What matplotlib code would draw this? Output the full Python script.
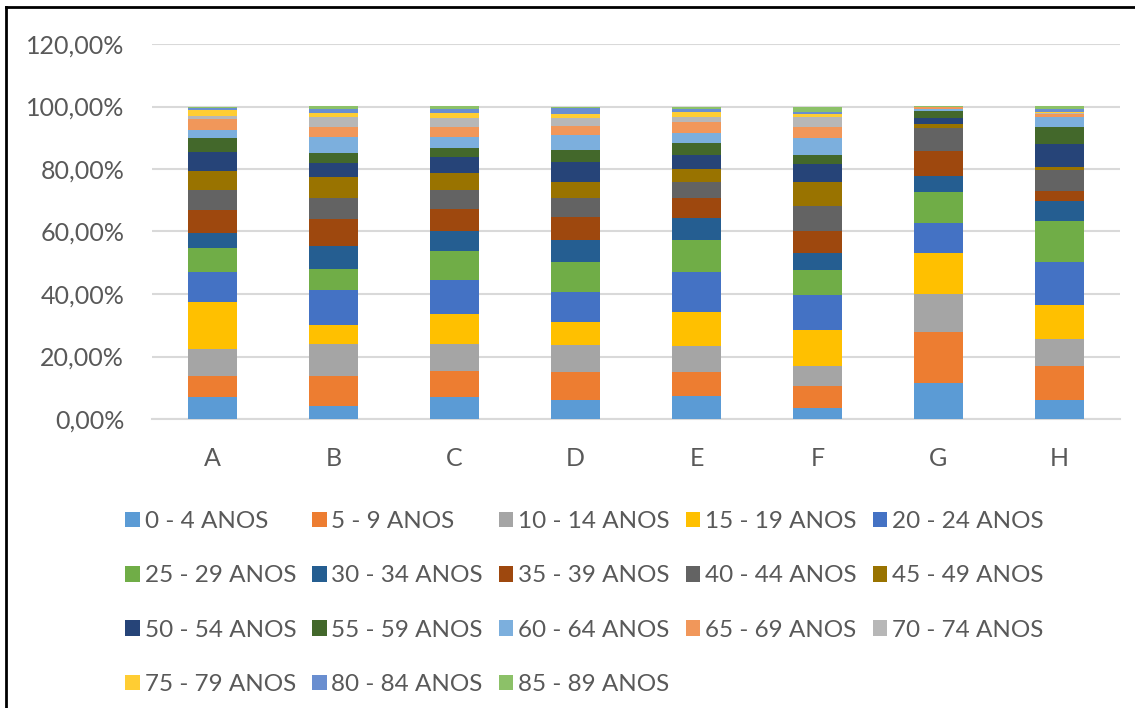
import matplotlib
matplotlib.use("Agg")
import matplotlib.pyplot as plt
from matplotlib.ticker import FuncFormatter
from matplotlib.patches import Patch
from matplotlib.lines import Line2D
import numpy as np

categories = ["A", "B", "C", "D", "E", "F", "G", "H"]
age_groups = ["0 - 4 ANOS", "5 - 9 ANOS", "10 - 14 ANOS", "15 - 19 ANOS", "20 - 24 ANOS",
              "25 - 29 ANOS", "30 - 34 ANOS", "35 - 39 ANOS", "40 - 44 ANOS", "45 - 49 ANOS",
              "50 - 54 ANOS", "55 - 59 ANOS", "60 - 64 ANOS", "65 - 69 ANOS", "70 - 74 ANOS",
              "75 - 79 ANOS", "80 - 84 ANOS", "85 - 89 ANOS"]

# percentages per age group, one value per category A..H
a_0_4   = [6.9, 4.3, 7.1, 6.2, 7.2, 3.6, 11.6, 6.2]
a_5_9   = [6.8, 9.5, 8.3, 9.0, 7.7, 6.9, 16.3, 10.9]
a_10_14 = [8.8, 10.1, 8.5, 8.5, 8.5, 6.5, 12.0, 8.4]
a_15_19 = [14.9, 6.2, 9.7, 7.5, 10.7, 11.4, 13.4, 11.0]
a_20_24 = [9.5, 11.0, 10.8, 9.6, 13.0, 11.2, 9.4, 13.9]
a_25_29 = [7.7, 6.7, 9.4, 9.4, 10.0, 8.0, 9.9, 13.1]
a_30_34 = [4.8, 7.6, 6.4, 7.2, 7.2, 5.6, 5.3, 6.3]
a_35_39 = [7.4, 8.5, 6.9, 7.4, 6.2, 7.1, 8.0, 3.2]
a_40_44 = [6.4, 6.7, 6.0, 6.0, 5.3, 8.0, 7.4, 6.6]
a_45_49 = [6.3, 6.9, 5.4, 5.1, 4.2, 7.5, 1.3, 1.1]
a_50_54 = [5.9, 4.3, 5.2, 6.3, 4.5, 5.8, 1.7, 7.5]
a_55_59 = [4.6, 3.3, 2.9, 3.8, 3.6, 2.8, 2.4, 5.2]
a_60_64 = [2.5, 5.2, 3.6, 5.0, 3.2, 5.6, 0.6, 3.4]
a_65_69 = [3.5, 3.1, 3.0, 2.7, 3.8, 3.5, 0.6, 0.9]
a_70_74 = [1.1, 3.0, 3.0, 2.7, 1.6, 3.2, 0.05, 0.3]
a_75_79 = [1.9, 1.5, 1.7, 1.2, 1.5, 0.9, 0.05, 0.2]
a_80_84 = [0.4, 1.1, 1.1, 1.8, 1.0, 0.7, 0.05, 1.0]
a_85_89 = [0.6, 0.9, 0.9, 0.6, 0.7, 1.7, 0.05, 0.9]

series = [a_0_4, a_5_9, a_10_14, a_15_19, a_20_24, a_25_29, a_30_34, a_35_39, a_40_44,
          a_45_49, a_50_54, a_55_59, a_60_64, a_65_69, a_70_74, a_75_79, a_80_84, a_85_89]

colors = ["#5B9BD5", "#ED7D31", "#A5A5A5", "#FFC000", "#4472C4", "#70AD47",
          "#255E91", "#9E480E", "#636363", "#997300", "#264478", "#43682B",
          "#7CAFDD", "#F1975A", "#B7B7B7", "#FFCD33", "#698ED0", "#8CC168"]

plt.rcParams['font.family'] = ['Lato', 'DejaVu Sans']
text_color = "#595959"

fig = plt.figure(figsize=(11.35, 7.08), dpi=100)
ax = fig.add_axes([152/1135, 1-419/708, (1120-152)/1135, (419-44)/708])

data = np.array(series) / 100.0
totals = data.sum(axis=0)
data = data / totals  # 100% stacked
x = np.arange(len(categories))
bottom = np.zeros(len(categories))
for i, vals in enumerate(data):
    ax.bar(x, vals, width=0.4, bottom=bottom, color=colors[i], label=age_groups[i], zorder=3)
    bottom += vals

ax.set_xlim(-0.5, len(categories) - 0.5)
ax.set_ylim(0, 1.2)
ax.set_yticks(np.arange(0, 1.21, 0.2))
ax.yaxis.set_major_formatter(FuncFormatter(lambda v, p: f"{v*100:.2f}%".replace(".", ",")))
ax.set_xticks(x)
ax.set_xticklabels(categories)
ax.grid(axis='y', color="#D9D9D9", linewidth=1.5, zorder=0)
for s in ["top", "right", "left"]:
    ax.spines[s].set_visible(False)
ax.spines["bottom"].set_color("#D9D9D9")
ax.spines["bottom"].set_linewidth(1.5)
ax.tick_params(axis='both', length=0, labelsize=18, colors=text_color)
ax.tick_params(axis='y', pad=20)
ax.tick_params(axis='x', pad=20)

# legend in row-major order
ncol = 5
n = len(age_groups)
nrows = int(np.ceil(n / ncol))
order = []
for c in range(ncol):
    for r in range(nrows):
        idx = r * ncol + c
        if idx < n:
            order.append(idx)
h = [Patch(facecolor=colors[i], edgecolor='none') for i in order]
l = [age_groups[i] for i in order]
leg = fig.legend(h, l, ncol=ncol, loc='upper left', bbox_to_anchor=(113/1135, 1-499/708),
                 frameon=False, fontsize=17.5, handlelength=0.6, handleheight=0.6,
                 handletextpad=0.2, columnspacing=0.65, labelspacing=1.37, borderpad=0,
                 labelcolor=text_color)

# outer border
fig.add_artist(Line2D([6/1135, 6/1135], [0, 1-7/708], color='black', linewidth=2, transform=fig.transFigure))
fig.add_artist(Line2D([6/1135, 1], [1-7/708, 1-7/708], color='black', linewidth=2, transform=fig.transFigure))

fig.savefig("out.png", dpi=100)
